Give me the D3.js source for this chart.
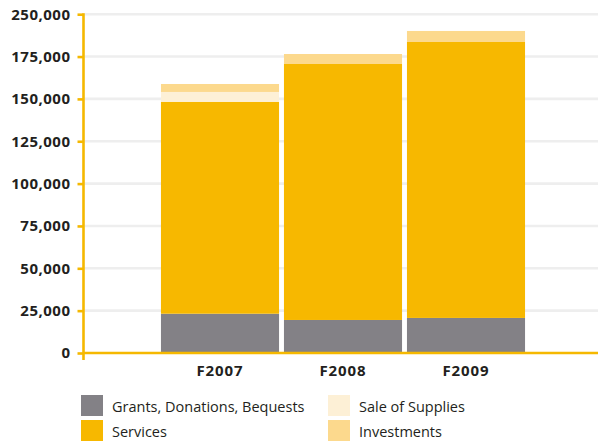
<!DOCTYPE html>
<html>
<head>
<meta charset="utf-8">
<script src="https://cdn.jsdelivr.net/npm/d3@7"></script>
<style>
  body { margin: 0; background: #fff; }
  #chart { width: 598px; height: 441px; }
  .y-axis text { font-family: "Open Sans", sans-serif; font-weight: 700; font-size: 15px; letter-spacing: 0.5px; fill: #231f20; }
  .x-axis text { font-family: "Open Sans", sans-serif; font-weight: 700; font-size: 15px; letter-spacing: 0.9px; fill: #231f20; }
  .legend text { font-family: "Open Sans", sans-serif; font-size: 14.5px; fill: #231f20; }
</style>
</head>
<body>
<div id="chart"></div>
<script>
// Data
const years = ['F2007', 'F2008', 'F2009'];
const grants = [23200, 19500, 20700];
const services = [125100, 151100, 162900];
const saleOfSupplies = [5800, 0, 0];
const investments = [4700, 5900, 6500];

const seriesNames = ['Grants, Donations, Bequests', 'Services', 'Sale of Supplies', 'Investments'];
const seriesColors = ['#838186', '#f7b800', '#fdf0d6', '#fcd98d'];

// y axis ticks (the top label skips 200,000 in the original)
const yTickValues = [0, 25000, 50000, 75000, 100000, 125000, 150000, 175000, 200000];
const yTickLabels = ['0', '25,000', '50,000', '75,000', '100,000', '125,000', '150,000', '175,000', '250,000'];

const width = 598, height = 441;
const axisX = 83.5;
const axisColor = '#f5b800';

const svg = d3.select('#chart').append('svg')
  .attr('width', width)
  .attr('height', height);

const yScale = d3.scaleLinear()
  .domain([0, 200000])
  .range([353, 14.2]);

const xScale = d3.scaleBand()
  .domain(years)
  .range([158.5, 527.5])
  .paddingInner(0.04)
  .paddingOuter(0.02);

// grid lines
svg.append('g')
  .attr('class', 'grid')
  .selectAll('line')
  .data(yTickValues.slice(1))
  .enter()
  .append('line')
  .attr('x1', axisX)
  .attr('x2', width)
  .attr('y1', d => yScale(d))
  .attr('y2', d => yScale(d))
  .attr('stroke', '#eeeeee')
  .attr('stroke-width', 2.6);

// stack the series
const rows = years.map((y, i) => ({
  year: y,
  s0: grants[i], s1: services[i], s2: saleOfSupplies[i], s3: investments[i],
}));
const stack = d3.stack().keys(['s0', 's1', 's2', 's3']);
const stacked = stack(rows);

svg.append('g')
  .selectAll('g')
  .data(stacked)
  .enter()
  .append('g')
  .attr('fill', (d, i) => seriesColors[i])
  .selectAll('rect')
  .data(d => d)
  .enter()
  .append('rect')
  .attr('x', d => xScale(d.data.year))
  .attr('width', xScale.bandwidth())
  .attr('y', d => yScale(d[1]))
  .attr('height', d => yScale(d[0]) - yScale(d[1]));

// y axis
const yAxis = d3.axisLeft(yScale)
  .tickValues(yTickValues)
  .tickFormat((d, i) => yTickLabels[i])
  .tickSize(6)
  .tickPadding(7);

const yg = svg.append('g')
  .attr('class', 'y-axis')
  .attr('transform', `translate(${axisX},0)`)
  .call(yAxis);
yg.select('.domain').remove();
yg.selectAll('.tick line').attr('stroke', axisColor).attr('stroke-width', 2.6);

// axis lines
svg.append('line')
  .attr('x1', axisX).attr('x2', width)
  .attr('y1', yScale(0)).attr('y2', yScale(0))
  .attr('stroke', axisColor).attr('stroke-width', 2.4);
svg.append('line')
  .attr('x1', axisX).attr('x2', axisX)
  .attr('y1', yScale(200000) - 1).attr('y2', yScale(0) + 7)
  .attr('stroke', axisColor).attr('stroke-width', 2.6);

// x axis labels
const xAxis = d3.axisBottom(xScale).tickSize(0).tickPadding(12);
const xg = svg.append('g')
  .attr('class', 'x-axis')
  .attr('transform', `translate(0,${yScale(0)})`)
  .call(xAxis);
xg.select('.domain').remove();

// legend
const legend = svg.append('g').attr('class', 'legend');
const legendPos = [[81, 395], [81, 420], [328, 395], [328, 420]];
seriesNames.forEach((name, i) => {
  const [lx, ly] = legendPos[i];
  legend.append('rect')
    .attr('x', lx).attr('y', ly)
    .attr('width', 22).attr('height', 21)
    .attr('fill', seriesColors[i]);
  legend.append('text')
    .attr('x', lx + 31).attr('y', ly + 17)
    .text(name);
});
</script>
</body>
</html>
